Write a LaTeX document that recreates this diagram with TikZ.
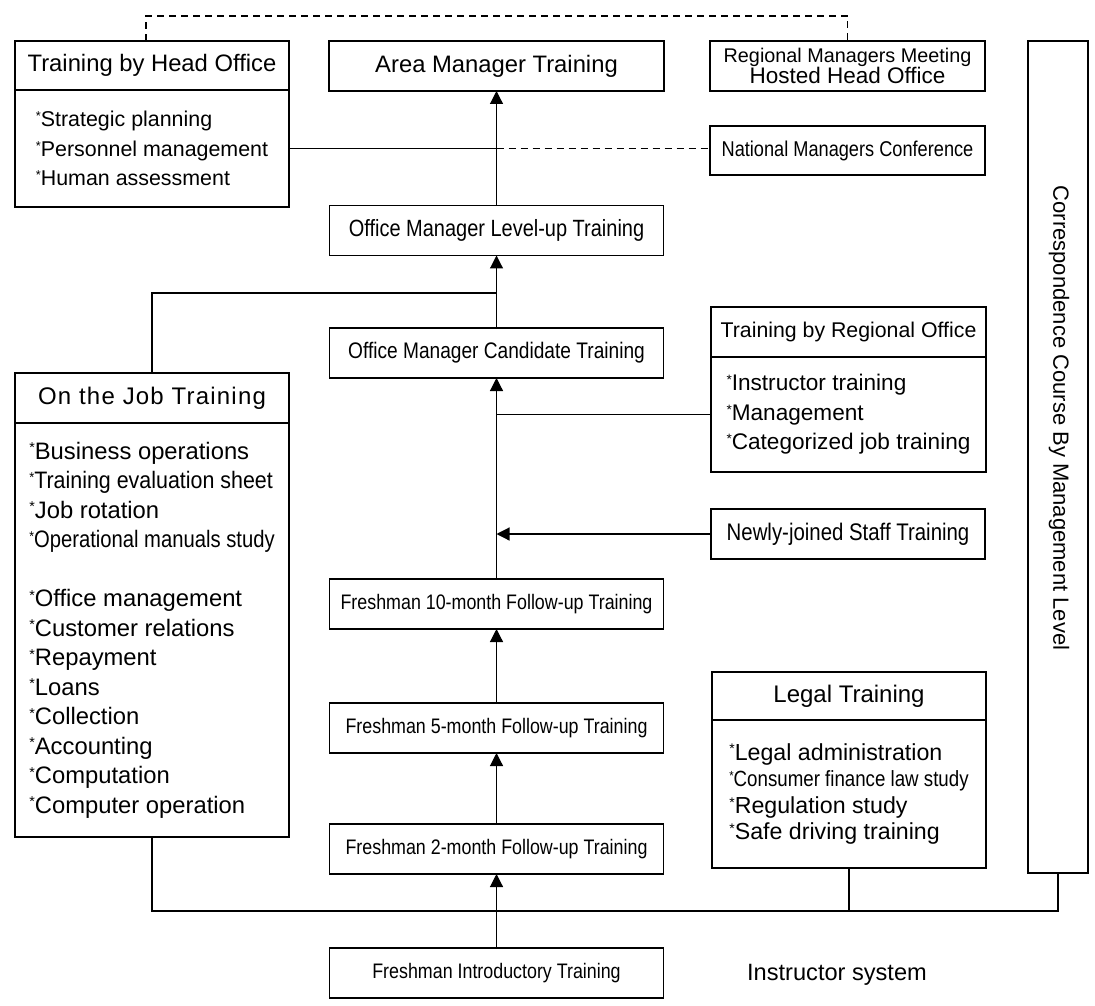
\documentclass[tikz,border=0pt]{standalone}
\usepackage{fontspec}
\setmainfont{Liberation Sans}
\newfontfamily\narrowfont[FakeStretch=0.85]{Liberation Sans}
\newfontfamily\semifont[FakeStretch=0.9]{Liberation Sans}
\newfontfamily\spacedfont[LetterSpace=5]{Liberation Sans}
\usetikzlibrary{positioning,arrows.meta}

\newcommand{\fsz}[2]{\fontsize{#1}{#2}\selectfont}
% small raised asterisk in front of each item
\newcommand{\bul}{\raisebox{0.5ex}{\scalebox{0.6}{*}}}

\tikzset{
	box/.style={draw, line width=0.7pt, inner sep=0pt, outer sep=0pt, align=center},
	titlebox/.style={box, minimum width=137pt, minimum height=24.5pt},
	listbox/.style={box, align=left, minimum width=137pt},
	stagebox/.style={box, minimum width=167pt, minimum height=25pt},
	link/.style={line width=0.6pt},
	uplink/.style={link, -{Triangle[length=6.5pt,width=6.5pt]}},
	dashlink/.style={link, dash pattern=on 3.5pt off 2.5pt},
}

\begin{document}
\begin{tikzpicture}[x=0.5pt, y=-0.5pt]
	\useasboundingbox[fill=white] (0,0) rectangle (1095,1005);
	
	% top row
	\node[titlebox, font=\fsz{11.9}{14}] (headtitle) at (152,65.5) {Training by Head Office};
	\node[listbox, minimum height=58.5pt, below=0pt of headtitle, font=\fsz{10.7}{14.75}] (headlist)
	{\bul Strategic planning\\\bul Personnel management\\\bul Human assessment};
	\node[stagebox, minimum width=167.5pt, font=\fsz{11.9}{14}] (area) at (496.5,66) {Area Manager Training};
	\node[box, minimum width=137.5pt, minimum height=25pt, font=\fsz{9.9}{10.5}] (meet) at (847.5,66)
	{Regional Managers Meeting\\\fsz{11.25}{10.5}Hosted Head Office};
	\node[box, minimum width=137.5pt, minimum height=24.5pt, font=\narrowfont\fsz{10.7}{13}] (nat) at (847.5,150.5)
	{National Managers Conference};
	\node[box, minimum width=30pt, minimum height=416pt] (corr) at (1058,457) {};
	\node[rotate=-90, font=\fsz{11}{13}] (corrtext) at (1059,418) {Correspondence Course By Management Level};
	
	% manager stages
	\node[stagebox, font=\narrowfont\fsz{11.75}{14}] (lvl) at (496.5,230.5) {Office Manager Level-up Training};
	\node[stagebox, font=\narrowfont\fsz{11.25}{14}] (cand) at (496.5,353) {Office Manager Candidate Training};
	
	% on the job training
	\node[titlebox, minimum height=25pt, font=\spacedfont\fsz{12}{14}] (ojttitle) at (152,398) {On the Job Training};
	\node[listbox, minimum height=207pt, below=0pt of ojttitle, font=\fsz{11.9}{14.75}] (ojtlist)
	{\bul Business operations\\{\semifont\bul Training evaluation sheet}\\\bul Job rotation\\
		{\narrowfont\bul Operational manuals study}\\[14.75pt]
		\bul Office management\\\bul Customer relations\\\bul Repayment\\\bul Loans\\\bul Collection\\
		\bul Accounting\\\bul Computation\\\bul Computer operation};
	
	% regional office training
	\node[titlebox, minimum width=137.5pt, minimum height=25pt, font=\fsz{10.65}{13}] (regtitle) at (848.5,332)
	{Training by Regional Office};
	\node[listbox, minimum width=137.5pt, minimum height=57.5pt, below=0pt of regtitle, font=\fsz{11.3}{14.75}] (reglist)
	{\bul Instructor training\\\bul Management\\\bul Categorized job training};
	\node[box, minimum width=137pt, minimum height=25pt, font=\narrowfont\fsz{12}{14}] (newly) at (848,534)
	{Newly-joined Staff Training};
	
	% legal training
	\node[titlebox, minimum height=24pt, font=\fsz{12}{14}] (legaltitle) at (849,696) {Legal Training};
	\node[listbox, minimum height=74pt, below=0pt of legaltitle, font=\fsz{11.6}{13.3}] (legallist)
	{\bul Legal administration\\{\narrowfont\fsz{11}{13.3}\bul Consumer finance law study}\\\bul Regulation study\\\bul Safe driving training};
	
	% freshman stages
	\node[stagebox, font=\narrowfont\fsz{10.5}{13}] (ten) at (496.5,604) {Freshman 10-month Follow-up Training};
	\node[stagebox, font=\narrowfont\fsz{10.5}{13}] (five) at (496.5,728) {Freshman 5-month Follow-up Training};
	\node[stagebox, font=\narrowfont\fsz{10.5}{13}] (two) at (496.5,849) {Freshman 2-month Follow-up Training};
	\node[stagebox, font=\narrowfont\fsz{10.5}{13}] (intro) at (496.5,973) {Freshman Introductory Training};
	\node[font=\fsz{11.8}{14}] (instr) at (837,975) {Instructor system};
	
	% main line
	\draw[uplink] (lvl) -- (area);
	\draw[uplink] (cand) -- (lvl);
	\draw[uplink] (ten) -- (cand);
	\draw[uplink] (five) -- (ten);
	\draw[uplink] (two) -- (five);
	\draw[uplink] (intro) -- (two);
	
	% side links
	\draw[uplink] (newly) -- (newly -| ten.north);
	\draw[link] (reglist) -- (reglist -| cand.south);
	\draw[link] (ojttitle) |- (lvl.south |- 0,293);
	\draw[link] (headlist) -- (headlist -| area.south) coordinate (hx);
	\draw[dashlink] (hx) -- (nat.west |- hx);
	\draw[dashlink] ([xshift=-3pt]headtitle.north) |- (meet.north |- 0,16) -- (meet);
	
	% instructor system bus
	\draw[link] (ojtlist) |- (corr.south |- 0,911) -- (corr);
	\draw[link] (legallist) -- (legallist |- 0,911);
\end{tikzpicture}
\end{document}
